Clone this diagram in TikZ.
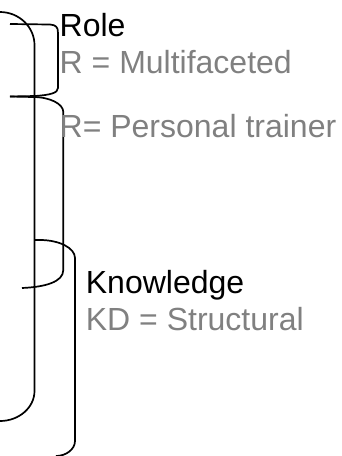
\documentclass[tikz,border=0pt]{standalone}
\usepackage{fontspec}
\setmainfont{Liberation Sans}
\definecolor{labelgray}{RGB}{128,128,128}
\begin{document}
\begin{tikzpicture}[x=1pt,y=-1pt,
  brace/.style={draw=black,line width=1.7pt,line join=round},
  head/.style={anchor=base west,inner sep=0pt,text=black,font=\fontsize{32}{36}\selectfont},
  value/.style={anchor=base west,inner sep=0pt,text=labelgray,font=\fontsize{32}{36}\selectfont}]
\useasboundingbox (0,0) rectangle (342,456);
% outer big brace
\draw[brace] (0,12) .. controls (19,12) and (34.5,27) .. (34.5,45)
  -- (34.5,391) .. controls (34.5,407.5) and (19,421) .. (0,421);
% Role brace
\draw[brace] (10,24) -- (50,24.5) .. controls (56,25) and (58,27) .. (58,33)
  -- (58,88) .. controls (58,93) and (50,95) .. (35,96) -- (10,96.5);
% second brace
\draw[brace] (10,96.5) -- (33,97) .. controls (49.5,97) and (63.3,103.7) .. (63.3,112)
  -- (63.3,270) .. controls (63.3,282) and (45,287) .. (22,288);
% knowledge brace
\draw[brace] (35,240) -- (40,240) .. controls (59.3,240) and (75,248) .. (75,258)
  -- (75,441) .. controls (75,449.3) and (66,456) .. (56,456);
% texts
\node[head]  (role)  at (59.5,36)  {Role};
\node[value] (rmult) at (59.5,73)  {R = Multifaceted};
\node[value] (rpers) at (59.5,137) {R= Personal trainer};
\node[head]  (know)  at (85.7,293) {Knowledge};
\node[value] (kd)    at (85.7,330) {KD = Structural};
\end{tikzpicture}
\end{document}
